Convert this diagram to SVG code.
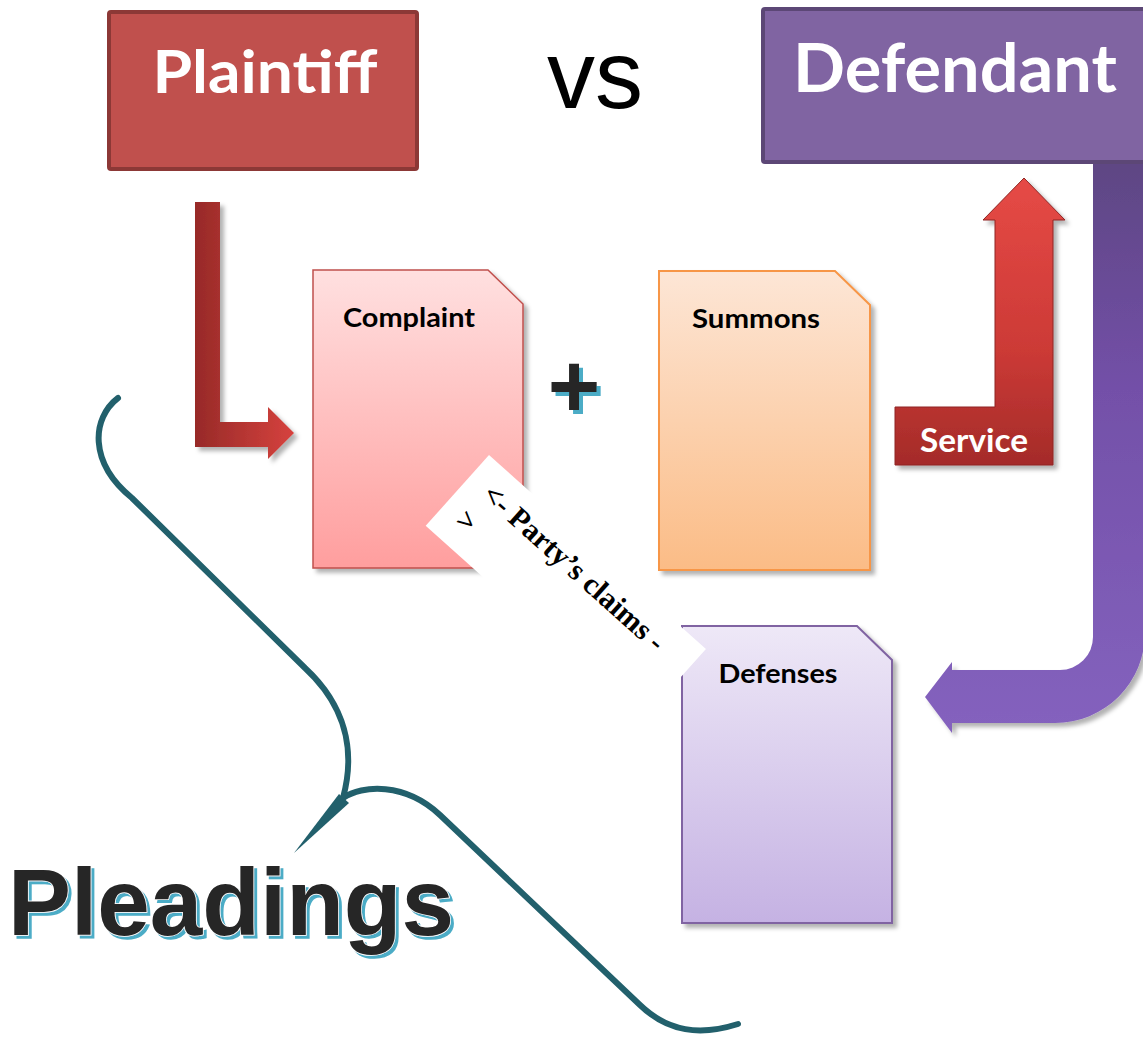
<svg xmlns="http://www.w3.org/2000/svg" width="1143" height="1044" viewBox="0 0 1143 1044">
<style>
.big{font-family:Lato,"Open Sans","Liberation Sans",sans-serif;font-weight:700;fill:#fff}
.doc{font-family:Lato,"Open Sans","Liberation Sans",sans-serif;font-weight:700;fill:#000;font-size:27px}
.ban{font-family:"Liberation Serif","Times New Roman",serif;font-weight:700;fill:#000;font-size:30px}
.ar{font-family:"Liberation Sans",Arial,sans-serif;font-weight:700}
</style>
<defs>
<filter id="sh" x="-10%" y="-10%" width="130%" height="130%"><feDropShadow dx="4" dy="4" stdDeviation="2" flood-color="#000" flood-opacity="0.3"/></filter>
<filter id="cy" x="-5%" y="-10%" width="115%" height="130%">
<feOffset in="SourceAlpha" dx="4" dy="4" result="o"/>
<feFlood flood-color="#4BACC6"/>
<feComposite in2="o" operator="in" result="c"/>
<feMerge><feMergeNode in="c"/><feMergeNode in="SourceGraphic"/></feMerge>
</filter>
<filter id="cy2" x="-5%" y="-10%" width="115%" height="130%">
<feOffset in="SourceAlpha" dx="3" dy="3" result="o"/>
<feFlood flood-color="#4BACC6"/>
<feComposite in2="o" operator="in" result="c"/>
<feMerge><feMergeNode in="c"/><feMergeNode in="SourceGraphic"/></feMerge>
</filter>
<linearGradient id="gC" x1="0" y1="0" x2="0" y2="1"><stop offset="0" stop-color="#FFE0E0"/><stop offset="1" stop-color="#FF9E9E"/></linearGradient>
<linearGradient id="gS" x1="0" y1="0" x2="0" y2="1"><stop offset="0" stop-color="#FDE6D6"/><stop offset="1" stop-color="#FBBC86"/></linearGradient>
<linearGradient id="gD" x1="0" y1="0" x2="0" y2="1"><stop offset="0" stop-color="#EEE8F7"/><stop offset="1" stop-color="#C5B2E3"/></linearGradient>
<linearGradient id="gL" x1="0" y1="0" x2="1" y2="0"><stop offset="0" stop-color="#972A28"/><stop offset="1" stop-color="#D6423E"/></linearGradient>
<linearGradient id="gR" x1="0" y1="0" x2="0" y2="1"><stop offset="0" stop-color="#E64A46"/><stop offset="0.6" stop-color="#CC3A36"/><stop offset="1" stop-color="#A42B29"/></linearGradient>
<linearGradient id="gP" gradientUnits="userSpaceOnUse" x1="0" y1="160" x2="0" y2="730"><stop offset="0" stop-color="#5E4683"/><stop offset="0.4" stop-color="#7350A8"/><stop offset="1" stop-color="#8462BE"/></linearGradient>
</defs>

<g id="connectors">
<path id="arrow-plaintiff" d="M195 202 L220 202 L220 422 L268 422 L268 407 L294 433 L268 459 L268 447 L195 447 Z" fill="url(#gL)" filter="url(#sh)"/>
<g id="service-arrow">
<path d="M895 407 L995 407 L995 220 L983 220 L1024 178 L1065 220 L1053 220 L1053 465 L895 465 Z" fill="url(#gR)" stroke="#8E2624" stroke-width="1" filter="url(#sh)"/>
<text class="big" x="974" y="452" font-size="32" text-anchor="middle" textLength="108" lengthAdjust="spacingAndGlyphs">Service</text>
</g>
<path id="arrow-defendant" d="M1093 160 L1093 637 A33 33 0 0 1 1060 670 L952 670 L952 662 L925 697 L952 733 L952 723 L1055 723 A90 90 0 0 0 1145 633 L1145 160 Z" fill="url(#gP)" filter="url(#sh)"/>
</g>

<g id="complaint">
<path d="M313 270 L488 270 L523 304 L523 568 L313 568 Z" fill="url(#gC)" stroke="#C0504D" stroke-width="1.5" filter="url(#sh)"/>
<text class="doc" x="409" y="327" text-anchor="middle" textLength="132" lengthAdjust="spacingAndGlyphs">Complaint</text>
</g>
<g id="summons">
<path d="M659 271 L835 271 L870 305 L870 570 L659 570 Z" fill="url(#gS)" stroke="#F79646" stroke-width="2" filter="url(#sh)"/>
<text class="doc" x="756" y="328" text-anchor="middle" textLength="128" lengthAdjust="spacingAndGlyphs">Summons</text>
</g>
<g id="plus" filter="url(#cy)">
<text class="ar" x="574" y="417" font-size="90" fill="#262626" text-anchor="middle">+</text>
</g>
<g id="defenses">
<path d="M682 626 L857 626 L892 660 L892 923 L682 923 Z" fill="url(#gD)" stroke="#8064A2" stroke-width="2" filter="url(#sh)"/>
<text class="doc" x="778" y="683" text-anchor="middle" textLength="119" lengthAdjust="spacingAndGlyphs">Defenses</text>
</g>

<g id="claims-label" transform="translate(489,455) rotate(41.8)">
<rect x="0" y="0" width="291" height="95" fill="#fff"/>
<text class="ban" x="22" y="37">&lt;- Party’s claims  -</text>
<text class="ban" x="19" y="74">&gt;</text>
</g>

<g id="brace" fill="none" stroke="#22606C" stroke-linecap="round">
<path d="M118 398 C92 418 88 462 132 498 L305 668 C345 705 356 750 343 798" stroke-width="6"/>
<path d="M343 798 C362 785 405 782 440 815 L640 1005 C668 1032 700 1036 738 1024" stroke-width="6"/>
<polygon points="339,794 349,803 294,853" fill="#22606C" stroke="none"/>
</g>

<g id="pleadings" filter="url(#cy2)">
<text class="ar" x="8" y="935" font-size="94" fill="#262626" stroke="#fff" stroke-width="1.5" paint-order="stroke" textLength="446" lengthAdjust="spacingAndGlyphs">Pleadings</text>
</g>

<g id="plaintiff">
<rect x="109" y="12" width="308" height="157" fill="#C0504D" stroke="#8C3836" stroke-width="4" rx="2"/>
<text class="big" x="265" y="93" font-size="60" text-anchor="middle" textLength="225" lengthAdjust="spacingAndGlyphs">Plaintiff</text>
</g>
<g id="vs">
<text x="595" y="108" font-family="Liberation Sans,Arial,sans-serif" font-size="96" fill="#000" text-anchor="middle">vs</text>
</g>
<g id="defendant">
<rect x="763" y="9" width="400" height="153" fill="#8064A2" stroke="#5C4776" stroke-width="4" rx="2"/>
<text class="big" x="955" y="92" font-size="66" text-anchor="middle" textLength="324" lengthAdjust="spacingAndGlyphs">Defendant</text>
</g>
</svg>
